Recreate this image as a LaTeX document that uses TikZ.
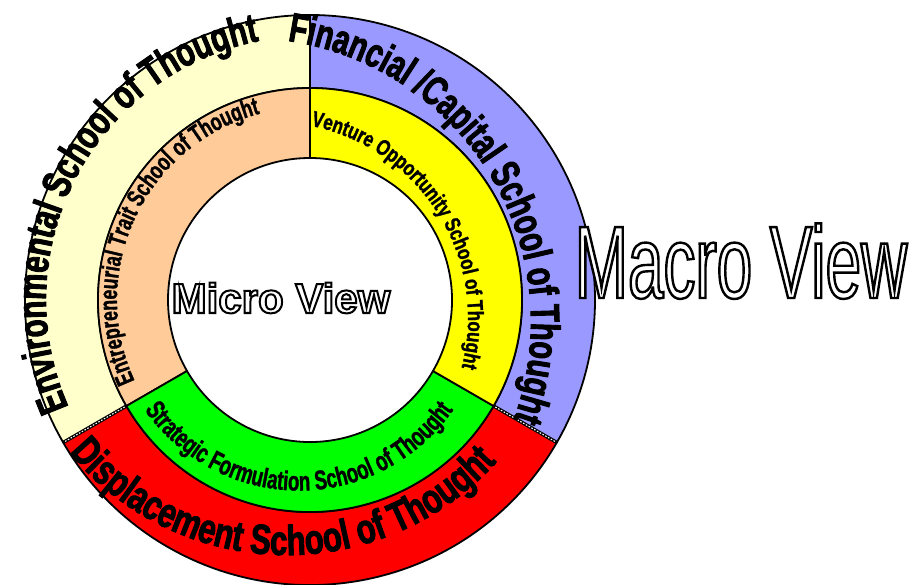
\documentclass[tikz,border=0pt]{standalone}
\usepackage{fontspec}
\usetikzlibrary{decorations.text,calc}
\newfontfamily\fEnv[FakeStretch=0.72,FakeBold=2.2]{Liberation Sans}
\newfontfamily\fFin[FakeStretch=0.71,FakeBold=2.2]{Liberation Sans}
\newfontfamily\fDis[FakeStretch=0.74,FakeBold=2.2]{Liberation Sans}
\newfontfamily\fEnt[FakeStretch=0.71,FakeBold=1.3]{Liberation Sans}
\newfontfamily\fVen[FakeStretch=0.77,FakeBold=1.3]{Liberation Sans}
\newfontfamily\fStr[FakeStretch=0.69,FakeBold=1.3]{Liberation Sans}
\newfontfamily\fMacro[FakeStretch=0.62]{Liberation Sans}
\newfontfamily\fMicro{Liberation Sans}
\definecolor{cream}{HTML}{FFFFCC}
\definecolor{lilac}{HTML}{9999FF}
\definecolor{peach}{HTML}{FFCC99}
\definecolor{ryellow}{HTML}{FFFF00}
\definecolor{rgreen}{HTML}{00FF00}
\definecolor{rred}{HTML}{FF0000}
\newcommand\outlinetext[2]{{\color{white}\special{pdf:literal direct 2 Tr #1 w 0 G}#2\special{pdf:literal direct 0 Tr}}}
\newcommand\ringsec[5]{%
  \filldraw[ringline, fill=#1] ($(C)+(#2:#4)$) arc[start angle=#2, end angle=#3, radius=#4]
    -- ($(C)+(#3:#5)$) arc[start angle=#3, end angle=#2, radius=#5] -- cycle;}
\begin{document}
\begin{tikzpicture}[x=1pt,y=1pt,
  ringline/.style={draw=black, line width=1.8pt, line join=round},
  hatchline/.style={draw=white, line width=1.1pt, dash pattern=on 1.6pt off 1.6pt},
  bigtitle/.style={inner sep=0pt, anchor=base}]
\fill[white] (0,0) rectangle (915,584);
\useasboundingbox (0,0) rectangle (915,584);
\coordinate (C) at (310,284);
% outer ring
\ringsec{cream}{90}{210}{212}{285}
\ringsec{rred}{210}{330}{212}{285}
\ringsec{lilac}{-30}{90}{212}{285}
% inner ring
\ringsec{peach}{90}{210}{142}{212}
\ringsec{rgreen}{210}{330}{142}{212}
\ringsec{ryellow}{-30}{90}{142}{212}
% dividers
\draw[line width=2.6pt] ($(C)+(90:142)$) -- ($(C)+(90:285)$);
\draw[line width=3.4pt] ($(C)+(210:212)$) -- ($(C)+(210:285)$);
\draw[line width=3.4pt] ($(C)+(330:212)$) -- ($(C)+(330:285)$);
\draw[hatchline] ($(C)+(210:214)$) -- ($(C)+(210:283)$);
\draw[hatchline] ($(C)+(330:214)$) -- ($(C)+(330:283)$);
% centre and side titles
\node[bigtitle] (micro) at (281,271)
  {\fMicro\bfseries\fontsize{42}{42}\selectfont\outlinetext{2}{Micro View}};
\node[bigtitle] (macro) at (741,286)
  {\fMacro\fontsize{103}{103}\selectfont\outlinetext{2.4}{Macro View}};
% curved labels
\path[decorate, decoration={text along path, text align=center,
  text={|\fEnv\bfseries\fontsize{41}{41}\selectfont|Environmental School of Thought}}]
  ($(C)+(215:264)$) arc[start angle=215, end angle=90, radius=264];
\coordinate (F0) at (247,262);
\path[decorate, decoration={text along path, text align=center,
  text={|\fFin\bfseries\fontsize{41}{41}\selectfont|Financial /Capital School of Thought}}]
  ($(F0)+(100.9:284)$) arc[start angle=100.9, end angle=-39.1, radius=284];
\coordinate (D0) at (287,312);
\path[decorate, decoration={text along path, text align=center,
  text={|\fDis\bfseries\fontsize{42}{42}\selectfont|Displacement School of Thought}}]
  ($(D0)+(200:283)$) arc[start angle=200, end angle=337.5, radius=283];
\path[decorate, decoration={text along path, text align=center,
  text={|\fEnt\bfseries\fontsize{25}{25}\selectfont|Entrepreneurial Trait School of Thought}}]
  ($(C)+(215:193)$) arc[start angle=215, end angle=94.8, radius=193];
\coordinate (V0) at (272,266);
\path[decorate, decoration={text along path, text align=center,
  text={|\fVen\bfseries\fontsize{22}{22}\selectfont|Venture Opportunity School of Thought}}]
  ($(V0)+(92:196)$) arc[start angle=92, end angle=-28.1, radius=196];
\coordinate (S0) at (299,281.5);
\path[decorate, decoration={text along path, text align=center,
  text={|\fStr\bfseries\fontsize{27}{27}\selectfont|Strategic Formulation School of Thought}}]
  ($(S0)+(200:188)$) arc[start angle=200, end angle=340, radius=188];
\end{tikzpicture}
\end{document}
